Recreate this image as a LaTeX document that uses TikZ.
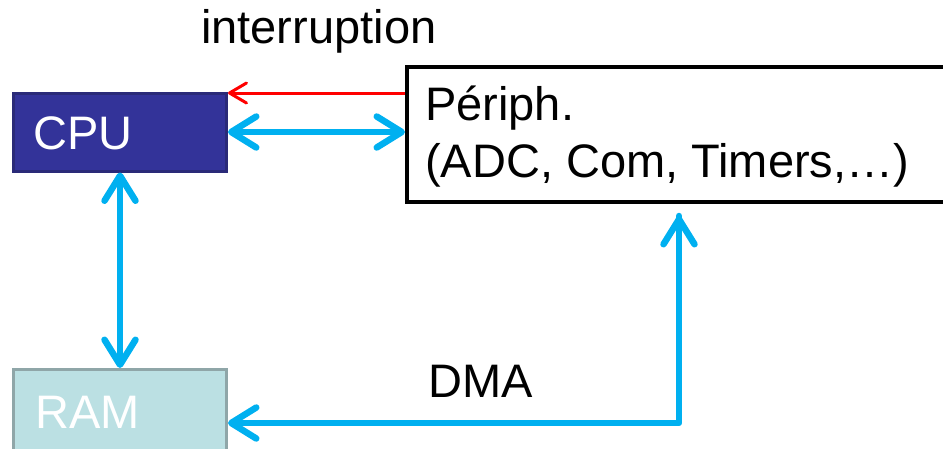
\documentclass[tikz,border=0pt]{standalone}
\usepackage{fontspec}
\setmainfont{Liberation Sans}
\usetikzlibrary{arrows.meta}
\definecolor{cpufill}{HTML}{333399}
\definecolor{cpuline}{HTML}{2A2A78}
\definecolor{ramfill}{HTML}{BBE0E3}
\definecolor{ramline}{HTML}{8FA6A8}
\definecolor{busblue}{HTML}{00B0F0}
\definecolor{intred}{HTML}{FF0000}
\tikzset{
  lbl/.style={font=\fontsize{47}{56}\selectfont, inner sep=0pt, anchor=base west},
  box/.style={rectangle, inner sep=0pt},
  bus/.style={busblue, line width=6.5pt, line cap=round, line join=round,
    {Straight Barb[length=25pt,width=31pt,round]}-{Straight Barb[length=25pt,width=31pt,round]}},
  busone/.style={busblue, line width=6.5pt, line cap=round, line join=round,
    {Straight Barb[length=25pt,width=31pt,round]}-},
  irq/.style={intred, line width=3pt, -{Straight Barb[length=17pt,width=20pt,round]}}
}
\begin{document}
\begin{tikzpicture}[x=1pt,y=-1pt]
\useasboundingbox (0,0) rectangle (943,448);
% boxes
\node[box, draw=cpuline, fill=cpufill, line width=3pt, minimum width=213pt, minimum height=78pt] (cpu) at (120,132) {};
\node[box, draw=ramline, fill=ramfill, line width=3pt, minimum width=213pt, minimum height=100pt] (ram) at (120,419.5) {};
\node[box, draw=black, line width=4pt, minimum width=580pt, minimum height=135pt, anchor=north west] (periph) at (405,65) {};
% texts
\node[lbl, text=white] (cputxt) at (33,149) {CPU};
\node[lbl, text=white] (ramtxt) at (35,428) {RAM};
\node[lbl] (pt1) at (425,120) {Périph.};
\node[lbl] (pt2) at (425,177) {(ADC, Com, Timers,…)};
\node[lbl] (irqtxt) at (201,43) {interruption};
\node[lbl] (dmatxt) at (428,397) {DMA};
% connectors
\coordinate (irqy) at (0,93);
\draw[irq] (periph.west |- irqy) -- (cpu.east |- irqy);
\draw[bus] (cpu.east) -- (periph.west |- cpu.east);
\draw[bus] (cpu.south) -- (ram.north);
\coordinate (dmacorner) at (679,423);
\coordinate (dmaend) at (679,216);
\draw[busone] (ram.east |- dmacorner) -- (dmacorner) -- (dmaend);
\draw[busblue, line width=6.5pt, -{Straight Barb[length=25pt,width=31pt,round]}] (dmacorner) -- (dmaend);
\end{tikzpicture}
\end{document}
